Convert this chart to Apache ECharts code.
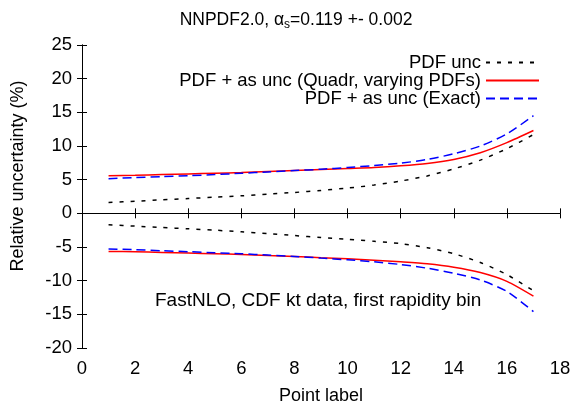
<!DOCTYPE html>
<html lang="en">
<head>
<meta charset="UTF-8">
<title>NNPDF2.0 alpha_s uncertainty</title>
<style>
  html, body { margin: 0; padding: 0; background: #fff; }
  #main { width: 575px; height: 404px; }
</style>
</head>
<body>
<div id="main"></div>
<script src="https://cdn.jsdelivr.net/npm/echarts@6/dist/echarts.min.js"></script>
<script>
// point labels 1..17
var points = [1, 2, 3, 4, 5, 6, 7, 8, 9, 10, 11, 12, 13, 14, 15, 16, 17];

// PDF unc (upper / lower)
var pdfUp = [1.6, 1.8, 2.0, 2.2, 2.4, 2.6, 2.85, 3.1, 3.4, 3.75, 4.2, 4.8, 5.55, 6.6, 7.9, 9.6, 11.7];
var pdfDn = [-1.7, -1.9, -2.1, -2.3, -2.5, -2.75, -3.0, -3.3, -3.6, -3.85, -4.15, -4.5, -5.1, -6.0, -7.3, -9.1, -11.5];

// PDF + as unc (Quadr, varying PDFs)
var quadUp = [5.6, 5.65, 5.75, 5.85, 5.95, 6.05, 6.2, 6.35, 6.5, 6.65, 6.8, 7.05, 7.4, 8.0, 9.0, 10.5, 12.3];
var quadDn = [-5.65, -5.7, -5.8, -5.9, -6.0, -6.1, -6.25, -6.4, -6.6, -6.75, -6.95, -7.2, -7.5, -8.0, -8.8, -10.1, -12.3];

// PDF + as unc (Exact)
var exactUp = [5.15, 5.3, 5.45, 5.6, 5.75, 5.95, 6.15, 6.35, 6.55, 6.8, 7.1, 7.45, 8.0, 8.85, 10.0, 11.8, 14.5];
var exactDn = [-5.3, -5.4, -5.55, -5.7, -5.85, -6.0, -6.2, -6.4, -6.65, -6.9, -7.2, -7.6, -8.15, -8.9, -9.9, -11.6, -14.6];

var names = ['PDF unc', 'PDF + as unc (Quadr, varying PDFs)', 'PDF + as unc (Exact)'];

function pairs(ys) {
    return points.map(function (x, i) { return [x, ys[i]]; });
}

var FONT = 'Liberation Sans, Arial, Helvetica, sans-serif';
var styles = [
    { color: '#000000', width: 1.5, type: [4, 7] },
    { color: '#ff0000', width: 1.5, type: 'solid' },
    { color: '#0000ff', width: 1.5, type: [9, 5] }
];

function makeSeries(name, ys, st, inLegend) {
    return {
        name: inLegend ? name : name + ' ',
        type: 'line',
        data: pairs(ys),
        showSymbol: false,
        symbol: 'none',
        smooth: 0.25,
        animation: false,
        lineStyle: { color: st.color, width: st.width, type: st.type },
        itemStyle: { color: st.color }
    };
}

var series = [
    makeSeries(names[0], pdfUp, styles[0], true),
    makeSeries(names[0], pdfDn, styles[0], false),
    makeSeries(names[1], quadUp, styles[1], true),
    makeSeries(names[1], quadDn, styles[1], false),
    makeSeries(names[2], exactUp, styles[2], true),
    makeSeries(names[2], exactDn, styles[2], false)
];

var axisCommon = {
    axisLine: { show: true, lineStyle: { color: '#000', width: 1 } },
    axisTick: { show: true, inside: true, length: 5, lineStyle: { color: '#000' } },
    splitLine: { show: false }
};

var chart = echarts.init(document.getElementById('main'));
chart.setOption({
    animation: false,
    backgroundColor: '#fff',
    textStyle: { fontFamily: FONT },
    title: {
        text: 'NNPDF2.0, α{sub|s}=0.119 +- 0.002',
        left: 291,
        top: 5,
        textAlign: 'center',
        textStyle: {
            fontFamily: FONT, fontSize: 17.5, fontWeight: 'normal', color: '#000',
            rich: { sub: { fontFamily: FONT, fontSize: 12, verticalAlign: 'bottom', padding: [9, 0, 0, 0], color: '#000' } }
        }
    },
    grid: { left: 82, right: 15, top: 45, bottom: 56, containLabel: false, outerBoundsMode: 'none' },
    legend: {
        orient: 'vertical',
        align: 'right',
        right: 30,
        top: 48,
        itemWidth: 53,
        itemHeight: 14,
        itemGap: -1,
        data: names,
        itemStyle: { opacity: 0 },
        textStyle: { fontFamily: FONT, fontSize: 18.5, color: '#000', lineHeight: 18 }
    },
    xAxis: [
        Object.assign({
            type: 'value', min: 0, max: 18, interval: 2,
            name: 'Point label', nameLocation: 'middle', nameGap: 39,
            nameTextStyle: { fontFamily: FONT, fontSize: 18, color: '#000' },
            axisLabel: { fontFamily: FONT, fontSize: 18.5, color: '#000', margin: 11 }
        }, axisCommon),
        Object.assign({
            type: 'value', min: 0, max: 18, interval: 2, position: 'top',
            axisLabel: { show: false }
        }, axisCommon)
    ],
    yAxis: [
        Object.assign({
            type: 'value', min: -20, max: 25, interval: 5,
            axisLabel: { fontFamily: FONT, fontSize: 18.5, color: '#000', margin: 10 }
        }, axisCommon),
        Object.assign({
            type: 'value', min: -20, max: 25, interval: 5, position: 'right',
            axisLabel: { show: false }
        }, axisCommon)
    ],
    graphic: [{
        type: 'text',
        x: 18,
        y: 176,
        rotation: Math.PI / 2,
        style: {
            text: 'Relative uncertainty (%)', font: '18px ' + FONT, fill: '#000',
            textAlign: 'center', textVerticalAlign: 'middle'
        }
    }, {
        type: 'text',
        left: 155,
        top: 291,
        style: { text: 'FastNLO, CDF kt data, first rapidity bin', font: '19px ' + FONT, fill: '#000' }
    }],
    series: series
});
</script>
</body>
</html>
